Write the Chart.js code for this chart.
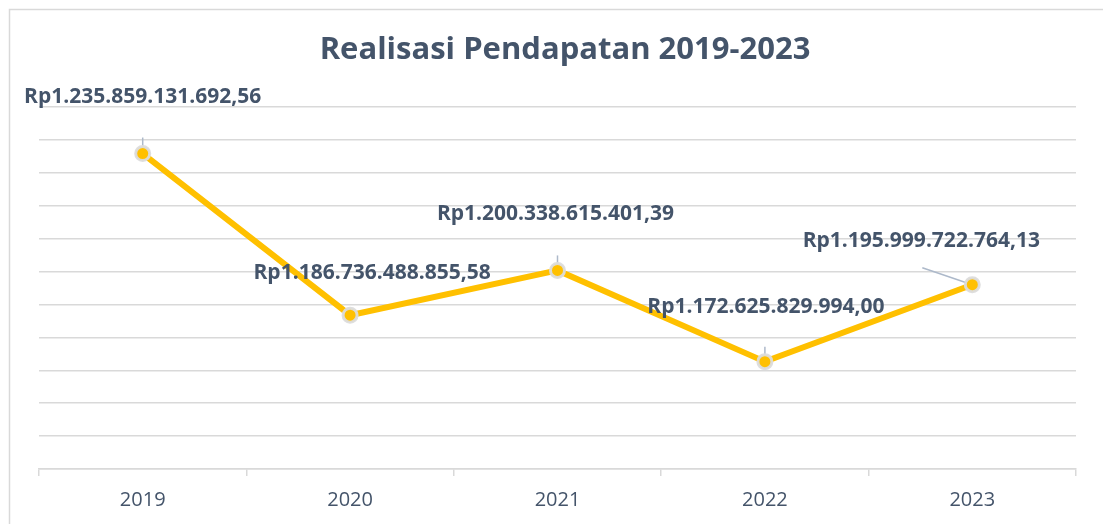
<!DOCTYPE html>
<html>
<head>
<meta charset="utf-8">
<script src="https://cdn.jsdelivr.net/npm/chart.js@4"></script>
<style>
  html, body { margin: 0; padding: 0; background: #fff; }
  #wrap { width: 1103px; height: 524px; }
</style>
</head>
<body>
<div id="wrap"><canvas id="grafik"></canvas></div>
<script>
// data
const tahun = ["2019", "2020", "2021", "2022", "2023"];
const pendapatan = [1235859131692.56, 1186736488855.58, 1200338615401.39, 1172625829994.00, 1195999722764.13];
const labelTeks = ["Rp1.235.859.131.692,56", "Rp1.186.736.488.855,58", "Rp1.200.338.615.401,39", "Rp1.172.625.829.994,00", "Rp1.195.999.722.764,13"];
const judul = "Realisasi Pendapatan 2019-2023";

// posisi label relatif terhadap titik (dx, dy baseline) dan garis penunjuk
const labelOffset = [[0, -51], [22, -36], [-2, -50], [1, -49], [-51, -38]];
const garisPenunjuk = [[0, -16], null, [0, -15], [0, -15], [-50, -17]];

const warnaTeks = '#44546A';

const pluginLabel = {
    id: 'labelData',
    beforeDraw(chart) {
        const ctx = chart.ctx;
        ctx.save();
        ctx.strokeStyle = '#D9D9D9';
        ctx.lineWidth = 1.5;
        ctx.strokeRect(9.5, 9.5, 1200, 600);
        ctx.fillStyle = warnaTeks;
        ctx.font = 'bold 31px "Open Sans"';
        ctx.textAlign = 'center';
        ctx.textBaseline = 'alphabetic';
        ctx.fillText(judul, 565, 59);
        ctx.restore();
    },
    beforeDatasetsDraw(chart) {
        const ctx = chart.ctx;
        const meta = chart.getDatasetMeta(0);
        ctx.save();
        ctx.strokeStyle = '#ADB9CA';
        ctx.lineWidth = 1.5;
        meta.data.forEach((pt, i) => {
            const g = garisPenunjuk[i];
            if (!g) return;
            ctx.beginPath();
            ctx.moveTo(pt.x, pt.y);
            ctx.lineTo(pt.x + g[0], pt.y + g[1]);
            ctx.stroke();
        });
        ctx.restore();
    },
    afterDatasetsDraw(chart) {
        const ctx = chart.ctx;
        const meta = chart.getDatasetMeta(0);
        ctx.save();
        ctx.fillStyle = warnaTeks;
        ctx.font = 'bold 21px "Open Sans"';
        ctx.textAlign = 'center';
        ctx.textBaseline = 'alphabetic';
        meta.data.forEach((pt, i) => {
            const o = labelOffset[i];
            ctx.fillText(labelTeks[i], pt.x + o[0], pt.y + o[1]);
        });
        ctx.restore();
    }
};

const ctx = document.getElementById('grafik').getContext('2d');
new Chart(ctx, {
    type: 'line',
    data: {
        labels: tahun,
        datasets: [{
            label: 'Pendapatan',
            data: pendapatan,
            borderColor: '#FFC000',
            borderWidth: 6,
            backgroundColor: '#FFC000',
            pointBackgroundColor: '#FFC000',
            pointBorderColor: 'rgba(220,220,220,0.95)',
            pointBorderWidth: 3,
            pointRadius: 7,
            tension: 0
        }]
    },
    options: {
        responsive: true,
        maintainAspectRatio: false,
        animation: false,
        layout: { padding: { left: 39, right: 27, top: 107, bottom: 0 } },
        plugins: {
            legend: { display: false },
            tooltip: { enabled: false }
        },
        scales: {
            x: {
                offset: true,
                grid: {
                    offset: true,
                    drawOnChartArea: false,
                    drawTicks: true,
                    tickLength: 7,
                    color: '#D9D9D9',
                    lineWidth: 1.5
                },
                border: { color: '#D9D9D9', width: 1.5 },
                ticks: {
                    color: warnaTeks,
                    font: { family: '"Open Sans"', size: 20 },
                    padding: 12
                }
            },
            y: {
                min: 1140000000000,
                max: 1250000000000,
                ticks: { display: false, stepSize: 10000000000 },
                grid: { color: '#D9D9D9', lineWidth: 1.5, drawTicks: false },
                border: { display: false }
            }
        }
    },
    plugins: [pluginLabel]
});
</script>
</body>
</html>
